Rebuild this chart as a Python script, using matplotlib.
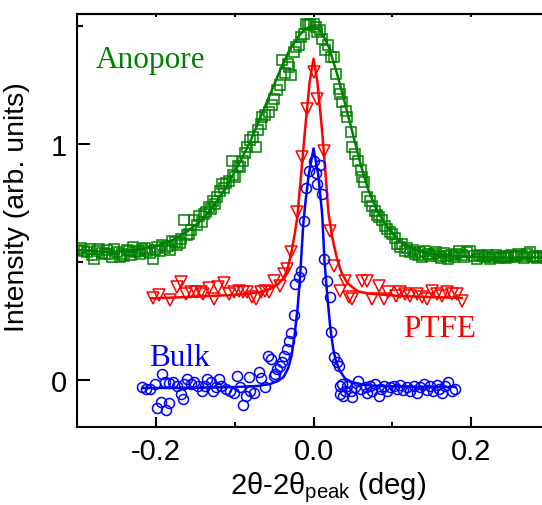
import numpy as np
import matplotlib
matplotlib.use("Agg")
import matplotlib.pyplot as plt
from matplotlib.ticker import MultipleLocator

plt.rcParams["font.family"] = ["Liberation Sans", "DejaVu Sans"]

# Anopore (green squares) data and fit
anopore_x = [-0.299, -0.295, -0.291, -0.287, -0.284, -0.281, -0.278, -0.275, -0.272, -0.268,
             -0.265, -0.262, -0.259, -0.256, -0.253, -0.249, -0.246, -0.243, -0.240, -0.237,
             -0.234, -0.231, -0.229, -0.226, -0.223, -0.220, -0.217, -0.214, -0.211, -0.207,
             -0.204, -0.201, -0.198, -0.195, -0.192, -0.188, -0.185, -0.182, -0.179, -0.176,
             -0.173, -0.170, -0.168, -0.164, -0.161, -0.158, -0.155, -0.152, -0.148, -0.145,
             -0.142, -0.139, -0.136, -0.133, -0.130, -0.128, -0.125, -0.122, -0.118, -0.116,
             -0.114, -0.111, -0.107, -0.103, -0.102, -0.099, -0.096, -0.093, -0.090, -0.087,
             -0.084, -0.080, -0.077, -0.073, -0.070, -0.067, -0.065, -0.061, -0.057, -0.053,
             -0.050, -0.046, -0.042, -0.040, -0.036, -0.033, -0.031, -0.029, -0.025, -0.022,
             -0.019, -0.016, -0.012, -0.010, -0.007, -0.004, 0.000, 0.003, 0.005, 0.008,
             0.011, 0.015, 0.018, 0.022, 0.026, 0.028, 0.032, 0.034, 0.036, 0.041,
             0.043, 0.047, 0.049, 0.053, 0.057, 0.060, 0.062, 0.064, 0.068, 0.072,
             0.074, 0.078, 0.081, 0.083, 0.087, 0.091, 0.093, 0.097, 0.100, 0.103,
             0.106, 0.110, 0.112, 0.116, 0.119, 0.123, 0.126, 0.129, 0.132, 0.135,
             0.138, 0.142, 0.145, 0.148, 0.152, 0.155, 0.159, 0.162, 0.165, 0.168,
             0.171, 0.174, 0.178, 0.181, 0.184, 0.188, 0.191, 0.195, 0.199, 0.203,
             0.207, 0.210, 0.214, 0.218, 0.221, 0.224, 0.228, 0.231, 0.235, 0.238,
             0.241, 0.244, 0.247, 0.251, 0.254, 0.257, 0.260, 0.264, 0.267, 0.271,
             0.275, 0.278, 0.281, 0.284, 0.287, 0.291]
anopore_y = [0.548, 0.559, 0.547, 0.540, 0.555, 0.530, 0.512, 0.545, 0.555, 0.538,
             0.533, 0.548, 0.533, 0.521, 0.555, 0.540, 0.519, 0.535, 0.523, 0.551,
             0.547, 0.530, 0.562, 0.541, 0.547, 0.533, 0.555, 0.560, 0.547, 0.538,
             0.512, 0.550, 0.562, 0.545, 0.571, 0.560, 0.566, 0.552, 0.590, 0.585,
             0.571, 0.578, 0.597, 0.675, 0.612, 0.618, 0.635, 0.675, 0.655, 0.696,
             0.668, 0.703, 0.712, 0.731, 0.722, 0.759, 0.745, 0.774, 0.802, 0.830,
             0.812, 0.835, 0.844, 0.929, 0.868, 0.859, 0.905, 0.900, 0.929, 0.960,
             0.986, 1.014, 1.030, 0.986, 1.060, 1.085, 1.113, 1.120, 1.134, 1.165,
             1.191, 1.226, 1.247, 1.353, 1.300, 1.340, 1.325, 1.290, 1.389, 1.410,
             1.420, 1.453, 1.467, 1.509, 1.505, 1.509, 1.508, 1.495, 1.474, 1.480,
             1.446, 1.396, 1.420, 1.368, 1.368, 1.297, 1.233, 1.212, 1.177, 1.141,
             1.113, 1.050, 0.986, 0.958, 0.929, 0.887, 0.859, 0.837, 0.774, 0.759,
             0.738, 0.717, 0.700, 0.689, 0.675, 0.653, 0.639, 0.628, 0.618, 0.600,
             0.576, 0.562, 0.576, 0.547, 0.560, 0.540, 0.548, 0.533, 0.528, 0.540,
             0.521, 0.547, 0.535, 0.526, 0.533, 0.540, 0.526, 0.518, 0.538, 0.525,
             0.512, 0.530, 0.519, 0.534, 0.547, 0.529, 0.520, 0.540, 0.547, 0.526,
             0.512, 0.530, 0.526, 0.519, 0.530, 0.512, 0.519, 0.527, 0.515, 0.522,
             0.526, 0.514, 0.519, 0.528, 0.519, 0.523, 0.533, 0.526, 0.518, 0.533,
             0.540, 0.522, 0.526, 0.515, 0.526, 0.519]
anopore_fit_x = [-0.30, -0.28, -0.26, -0.24, -0.22, -0.20, -0.18, -0.16, -0.14, -0.13,
                 -0.12, -0.11, -0.10, -0.09, -0.08, -0.07, -0.06, -0.05, -0.04, -0.03,
                 -0.02, -0.01, 0.00, 0.01, 0.02, 0.03, 0.04, 0.05, 0.06, 0.07,
                 0.08, 0.09, 0.10, 0.11, 0.12, 0.14, 0.16, 0.18, 0.20, 0.24, 0.30]
anopore_fit_y = [0.550, 0.545, 0.542, 0.545, 0.553, 0.566, 0.590, 0.628, 0.682, 0.722,
                 0.770, 0.822, 0.880, 0.945, 1.012, 1.090, 1.170, 1.250, 1.330, 1.400,
                 1.452, 1.488, 1.500, 1.475, 1.405, 1.295, 1.170, 1.040, 0.910, 0.800,
                 0.720, 0.665, 0.620, 0.585, 0.562, 0.538, 0.527, 0.522, 0.520, 0.518, 0.518]

# PTFE (red triangles) data and fit
ptfe_x = [-0.204, -0.196, -0.182, -0.173, -0.168, -0.162, -0.156, -0.149, -0.143, -0.140,
          -0.133, -0.126, -0.121, -0.114, -0.107, -0.101, -0.095, -0.090, -0.084, -0.078,
          -0.073, -0.066, -0.061, -0.057, -0.050, -0.042, -0.038, -0.034, -0.028, -0.021,
          -0.015, -0.008, 0.000, 0.005, 0.013, 0.021, 0.026, 0.034, 0.040, 0.045,
          0.049, 0.062, 0.068, 0.074, 0.083, 0.089, 0.095, 0.104, 0.110, 0.116,
          0.123, 0.131, 0.138, 0.144, 0.150, 0.157, 0.163, 0.169, 0.176, 0.182, 0.188]
ptfe_y = [0.347, 0.361, 0.339, 0.392, 0.413, 0.364, 0.371, 0.371, 0.371, 0.364,
          0.388, 0.342, 0.392, 0.410, 0.364, 0.371, 0.378, 0.371, 0.371, 0.350,
          0.342, 0.371, 0.378, 0.373, 0.420, 0.399, 0.448, 0.470, 0.540, 0.710,
          0.944, 1.148, 1.304, 1.191, 0.971, 0.632, 0.484, 0.378, 0.420, 0.350,
          0.342, 0.420, 0.420, 0.342, 0.399, 0.342, 0.371, 0.356, 0.371, 0.364,
          0.356, 0.364, 0.350, 0.342, 0.378, 0.364, 0.356, 0.371, 0.364, 0.364, 0.335]
ptfe_fit_x = [-0.206, -0.15, -0.10, -0.07, -0.055, -0.045, -0.038, -0.033, -0.028, -0.024,
              -0.0205, -0.0165, -0.011, -0.005, 0.0, 0.005, 0.011, 0.016, 0.019, 0.024,
              0.030, 0.036, 0.043, 0.056, 0.07, 0.11, 0.15, 0.188]
ptfe_fit_y = [0.345, 0.352, 0.360, 0.370, 0.385, 0.405, 0.430, 0.470, 0.540, 0.615,
              0.690, 0.840, 1.050, 1.260, 1.360, 1.260, 1.050, 0.840, 0.705, 0.600,
              0.510, 0.450, 0.410, 0.375, 0.365, 0.355, 0.350, 0.347]

# Bulk (blue circles) data and fit
bulk_x = [-0.217, -0.213, -0.208, -0.201, -0.198, -0.194, -0.192, -0.189, -0.187, -0.183,
          -0.183, -0.178, -0.173, -0.168, -0.165, -0.164, -0.160, -0.156, -0.152, -0.147,
          -0.142, -0.138, -0.135, -0.130, -0.127, -0.124, -0.120, -0.117, -0.111, -0.106,
          -0.101, -0.097, -0.093, -0.090, -0.086, -0.082, -0.080, -0.076, -0.069, -0.066,
          -0.061, -0.058, -0.054, -0.050, -0.049, -0.046, -0.043, -0.040, -0.037, -0.034,
          -0.031, -0.028, -0.025, -0.023, -0.019, -0.016, -0.012, -0.009, -0.006, 0.000,
          0.003, 0.005, 0.008, 0.011, 0.013, 0.017, 0.021, 0.022, 0.026, 0.030,
          0.032, 0.033, 0.034, 0.036, 0.038, 0.040, 0.043, 0.047, 0.049, 0.053,
          0.057, 0.060, 0.066, 0.068, 0.072, 0.074, 0.078, 0.083, 0.085, 0.089,
          0.093, 0.097, 0.102, 0.106, 0.110, 0.114, 0.119, 0.123, 0.127, 0.131,
          0.135, 0.140, 0.144, 0.148, 0.152, 0.157, 0.159, 0.163, 0.167, 0.171,
          0.176, 0.180]
bulk_y = [-0.032, -0.037, -0.040, -0.018, -0.121, -0.096, 0.024, -0.011, -0.129, -0.099,
          -0.014, -0.011, -0.025, -0.061, -0.082, -0.018, 0.003, -0.018, -0.011, -0.025,
          -0.047, -0.025, 0.003, -0.011, -0.047, -0.032, 0.003, -0.025, -0.040, -0.047,
          -0.054, 0.017, -0.032, -0.107, -0.068, 0.010, -0.047, -0.054, 0.031, 0.006,
          -0.032, 0.102, 0.088, 0.017, 0.024, 0.045, 0.059, 0.074, 0.102, 0.130,
          0.165, 0.198, 0.274, 0.406, 0.434, 0.462, 0.672, 0.813, 0.884, 0.929,
          0.878, 0.830, 0.912, 0.788, 0.512, 0.420, 0.350, 0.204, 0.095, 0.074,
          0.059, -0.061, -0.025, -0.018, -0.068, -0.047, -0.025, -0.047, -0.075, -0.032,
          -0.004, -0.040, -0.032, -0.054, -0.025, -0.047, -0.018, -0.068, -0.040, -0.025,
          -0.047, -0.032, -0.025, -0.040, -0.022, -0.043, -0.032, -0.047, -0.025, -0.054,
          -0.032, -0.018, -0.043, -0.025, -0.047, -0.022, -0.040, -0.054, -0.025, -0.011,
          -0.047, -0.040]
bulk_fit_x = [-0.217, -0.15, -0.10, -0.07, -0.055, -0.045, -0.038, -0.032, -0.028, -0.024,
              -0.020, -0.017, -0.013, -0.010, -0.006, 0.0, 0.006, 0.011, 0.014, 0.017,
              0.021, 0.025, 0.028, 0.033, 0.040, 0.050, 0.065, 0.09, 0.13, 0.18]
bulk_fit_y = [-0.035, -0.034, -0.031, -0.026, -0.018, -0.005, 0.012, 0.050, 0.100, 0.190,
              0.310, 0.440, 0.660, 0.760, 0.870, 0.980, 0.870, 0.700, 0.500, 0.375,
              0.230, 0.130, 0.085, 0.040, 0.005, -0.012, -0.022, -0.027, -0.029, -0.030]

green = "#008000"
red = "#ff0000"
blue = "#0000ff"

fig = plt.figure(figsize=(5.42, 5.06), dpi=100)
ax = fig.add_axes([0.1421, 0.1542, 0.8727, 0.8162])

ax.plot(anopore_x, anopore_y, "s", ms=7.2, mfc="none", mec=green, mew=1.1)
ax.plot(anopore_fit_x, anopore_fit_y, "-", color=green, lw=1.8)
ax.plot(ptfe_x, ptfe_y, "v", ms=8.5, mfc="none", mec=red, mew=1.1)
ax.plot(ptfe_fit_x, ptfe_fit_y, "-", color=red, lw=1.8)
ax.plot(bulk_x, bulk_y, "o", ms=7.2, mfc="none", mec=blue, mew=1.1)
ax.plot(bulk_fit_x, bulk_fit_y, "-", color=blue, lw=1.8)

serif = ["Liberation Serif", "DejaVu Serif"]
ax.text(-0.276, 1.327, "Anopore", color=green, fontsize=22.5, family=serif, va="baseline")
ax.text(0.114, 0.185, "PTFE", color=red, fontsize=22.5, family=serif, va="baseline")
ax.text(-0.209, 0.062, "Bulk", color=blue, fontsize=22.5, family=serif, va="baseline")

ax.set_xlim(-0.3, 0.3)
ax.set_ylim(-0.2, 1.55)
ax.xaxis.set_minor_locator(MultipleLocator(0.1))
ax.yaxis.set_minor_locator(MultipleLocator(0.5))
ax.set_xticks([-0.2, 0.0, 0.2])
ax.set_xticklabels(["-0.2", "0.0", "0.2"])
ax.set_yticks([0, 1])
ax.set_yticklabels(["0", "1"])

ax.tick_params(which="both", direction="in", width=1.5, labelsize=21, top=False, right=False)
ax.tick_params(axis="x", which="major", length=7.5, pad=7)
ax.tick_params(axis="x", which="minor", length=3.5)
ax.tick_params(axis="y", which="major", length=9, pad=7)
ax.tick_params(axis="y", which="minor", length=4.5)

top = ax.secondary_xaxis("top")
top.set_xticks([-0.2, -0.1, 0.0, 0.1, 0.2])
top.tick_params(direction="in", length=2, width=1.5, labeltop=False)

for s in ax.spines.values():
    s.set_linewidth(1.5)
for s in top.spines.values():
    s.set_linewidth(1.5)
ax.spines["right"].set_visible(False)

ax.set_xlabel("2θ-2θ$_\\mathregular{peak}$ (deg)", fontsize=21)
ax.set_ylabel("Intensity (arb. units)", fontsize=20.5)
ax.xaxis.set_label_coords(0.53, -0.102)
ax.yaxis.set_label_coords(-0.1, 0.535)

fig.savefig("out.png", dpi=100)
